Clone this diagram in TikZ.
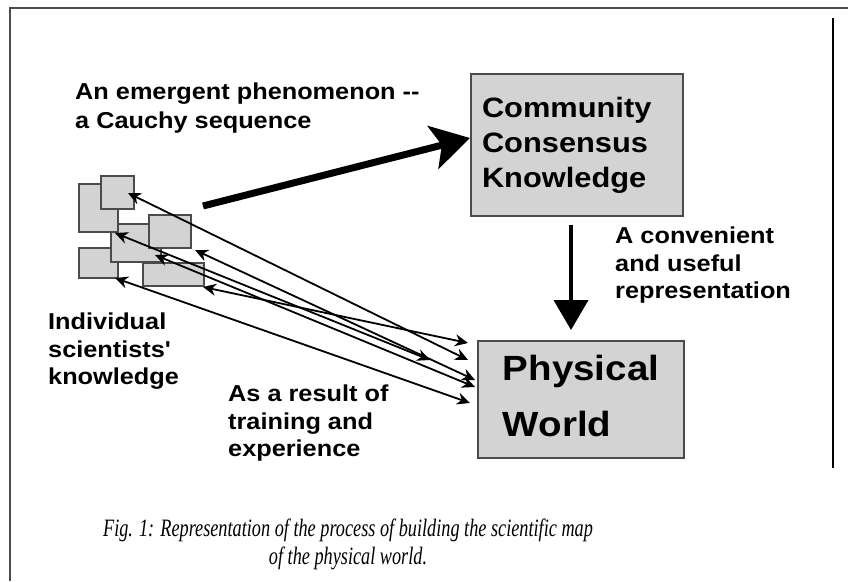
\documentclass[tikz,border=0pt]{standalone}
\usepackage{fontspec}
\setmainfont{Liberation Sans}[FakeStretch=1.1,Ligatures=TeXOff]
\newfontfamily\capfont{Liberation Serif}[FakeStretch=0.73]
\usetikzlibrary{arrows.meta}
\definecolor{boxgray}{RGB}{211,211,211}
\definecolor{rimgray}{RGB}{75,75,75}
\newcommand{\labfont}{\bfseries\fontsize{23}{27.5}\selectfont}

\begin{document}
\begin{tikzpicture}[x=1pt,y=-1pt,
    box/.style={draw=rimgray,line width=2pt,fill=boxgray,inner ysep=0pt,anchor=north west,align=left},
    mini/.style={draw=rimgray,line width=1.5pt,fill=boxgray,inner sep=0pt,anchor=north west},
    lbl/.style={align=left,anchor=north west,inner sep=0pt,font=\labfont},
    link/.style={{Stealth[length=13pt,width=12pt]}-{Stealth[length=13pt,width=12pt]},line width=1.8pt}]
  \useasboundingbox (0,0) rectangle (848,581);
  % frame
  \draw[line width=2pt,black!70] (10,581) -- (10,8) -- (848,8);
  \draw[line width=2pt] (833,18) -- (833,468);

  % individual scientists
  \node[mini,minimum width=39pt,minimum height=30pt] (mE) at (78,247) {};
  \node[mini,minimum width=61pt,minimum height=23pt] (mF) at (142,262) {};
  \node[mini,minimum width=50pt,minimum height=38pt] (mC) at (110,223) {};
  \node[mini,minimum width=39pt,minimum height=48pt] (mA) at (78,183) {};
  \node[mini,minimum width=33pt,minimum height=33pt] (mB) at (100,175) {};
  \node[mini,minimum width=42pt,minimum height=33pt] (mD) at (148,214) {};

  \node[box,minimum width=212pt,minimum height=142pt,text width=190pt,inner xsep=11pt,
        font=\bfseries\fontsize{28}{35}\selectfont] (comm) at (470,73)
    {Community\\Consensus\\Knowledge};
  \node[box,minimum width=206pt,minimum height=117pt,
        font=\bfseries\fontsize{35}{56}\selectfont] (phys) at (477,340)
    {Physical\\World\rule[-8pt]{0pt}{8pt}};

  \node[lbl,font=\bfseries\fontsize{23}{29}\selectfont] (emerge) at (75,83)
    {An emergent phenomenon --\\a Cauchy sequence};
  \node[lbl] (conv) at (615,227) {A convenient\\and useful\\representation};
  \node[lbl] (indiv) at (48,313) {Individual\\scientists'\\knowledge};
  \node[lbl] (result) at (228,385) {As a result of\\training and\\experience};

  \node[font=\capfont\itshape\fontsize{25}{28}\selectfont,align=center] (cap) at (348,544)
    {Fig. 1: Representation of the process of building the scientific map\\of the physical world.};

  % arrows
  \coordinate (flow) at (203,206);
  \draw[line width=7pt,-{Stealth[length=38pt,width=44pt,inset=9pt]}]
    (flow) -- ([yshift=7pt]comm.west);
  \draw[line width=4pt,-{Triangle[length=30pt,width=34pt]}]
    ([xshift=-6pt,yshift=-8pt]comm.south) -- ([xshift=-6pt,yshift=10pt]comm.south |- phys.north);

  \coordinate (b1) at (128,193); \coordinate (w1) at (468,360);
  \coordinate (b2) at (195,250); \coordinate (w2) at (475,380);
  \coordinate (b3) at (115,233); \coordinate (w3) at (430,360);
  \coordinate (b4) at (155,255); \coordinate (w4) at (475,387);
  \coordinate (b5) at (203,287); \coordinate (w5) at (468,343);
  \coordinate (b6) at (115,278); \coordinate (w6) at (470,403);
  \path[link]
    (b1) edge (w1) (b2) edge (w2) (b3) edge (w3)
    (b4) edge (w4) (b5) edge (w5) (b6) edge (w6);
\end{tikzpicture}
\end{document}
